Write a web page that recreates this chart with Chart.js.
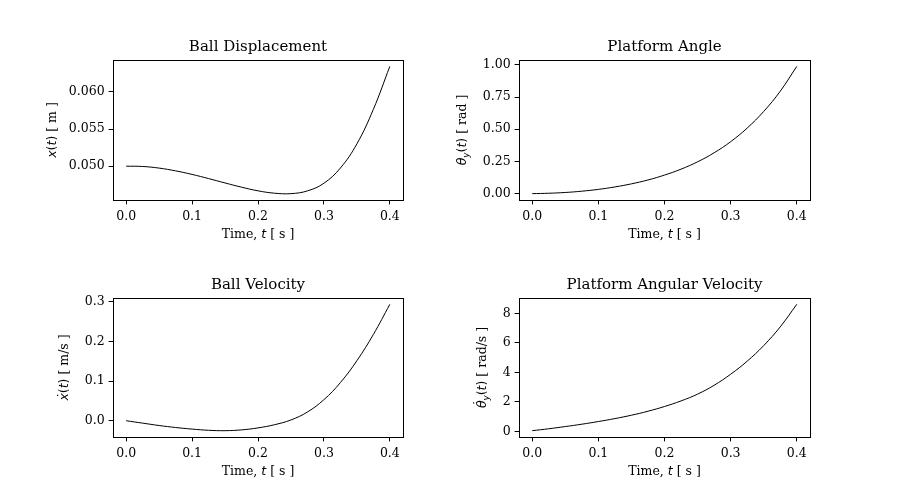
<!DOCTYPE html>
<html>
<head>
<meta charset="utf-8">
<script src="https://cdn.jsdelivr.net/npm/chart.js@4.4.1/dist/chart.umd.min.js"></script>
<style>
  html, body { margin: 0; padding: 0; background: #fff; }
  #wrap { position: relative; width: 900px; height: 500px; }
  #wrap canvas { position: absolute; left: 0; top: 0; }
</style>
</head>
<body>
<div id="wrap">
  <canvas id="c1" width="900" height="500"></canvas>
  <canvas id="c2" width="900" height="500"></canvas>
  <canvas id="c3" width="900" height="500"></canvas>
  <canvas id="c4" width="900" height="500"></canvas>
</div>
<script>
// time samples, seconds
const time = [0, 0.025, 0.05, 0.075, 0.1, 0.125, 0.15, 0.175, 0.2, 0.225, 0.25, 0.275, 0.3, 0.325, 0.35, 0.375, 0.4];

// values
const ballDisplacement = [0.0500, 0.04996, 0.04974, 0.04937, 0.04889, 0.04833, 0.04774, 0.04717, 0.04668, 0.04636, 0.04630, 0.04667, 0.04770, 0.04975, 0.05300, 0.05765, 0.06345];
const platformAngle = [0, 0.003, 0.009, 0.019, 0.033, 0.052, 0.076, 0.106, 0.144, 0.19, 0.247, 0.317, 0.403, 0.509, 0.638, 0.795, 0.988];
const ballVelocity = [0, -0.006, -0.012, -0.017, -0.021, -0.024, -0.025, -0.023, -0.018, -0.01, 0.002, 0.022, 0.053, 0.096, 0.151, 0.217, 0.293];
const platformRate = [0.04, 0.17, 0.32, 0.48, 0.66, 0.86, 1.09, 1.36, 1.68, 2.06, 2.52, 3.12, 3.87, 4.755, 5.815, 7.085, 8.615];

// tick labels
const timeTicks = [0.0, 0.1, 0.2, 0.3, 0.4];
const dispTicks = [0.050, 0.055, 0.060];
const angleTicks = [0.00, 0.25, 0.50, 0.75, 1.00];
const velTicks = [0.0, 0.1, 0.2, 0.3];
const rateTicks = [0, 2, 4, 6, 8];

const SERIF = '"DejaVu Serif", "Liberation Serif", serif';
const SANS = '"DejaVu Sans", sans-serif';
const TICK_PX = 12.5;

// draw a label made of pieces with different fonts, centred on 0,0
function drawPieces(ctx, pieces, size) {
    const fonts = pieces.map(p => {
        const s = p.sub ? size * 0.7 : size;
        if (p.m === 'i') return 'italic ' + s + 'px ' + SANS;
        if (p.m === 'm') return s + 'px ' + SANS;
        return s + 'px ' + SERIF;
    });
    let total = 0;
    const widths = pieces.map((p, i) => {
        ctx.font = fonts[i];
        const w = ctx.measureText(p.t).width;
        total += w;
        return w;
    });
    let x = -total / 2;
    ctx.textBaseline = 'middle';
    pieces.forEach((p, i) => {
        ctx.font = fonts[i];
        ctx.textAlign = 'left';
        ctx.fillText(p.t, x, p.sub ? size * 0.28 : 0);
        if (p.dot !== undefined) {
            // time-derivative dot over the symbol
            ctx.font = size + 'px ' + SANS;
            ctx.textAlign = 'center';
            ctx.fillText('\u02d9', x + widths[i] / 2 + 1.5, -size * p.dot);
        }
        x += widths[i];
    });
}

const timeLabel = [{ t: 'Time, ', m: 'r' }, { t: 't', m: 'i' }, { t: ' [ s ]', m: 'r' }];

// frame, title and axis labels
const decorPlugin = {
    id: 'decor',
    afterDraw(chart) {
        const o = chart.options.plugins.decor;
        const a = chart.chartArea;
        const ctx = chart.ctx;
        ctx.save();
        ctx.strokeStyle = '#000';
        ctx.lineWidth = 1;
        ctx.strokeRect(Math.round(a.left) + 0.5, Math.round(a.top) + 0.5,
            Math.round(a.right - a.left), Math.round(a.bottom - a.top));
        ctx.fillStyle = '#000';
        ctx.font = '15px ' + SERIF;
        ctx.textAlign = 'center';
        ctx.textBaseline = 'middle';
        ctx.fillText(o.title, (a.left + a.right) / 2, a.top - 13);

        ctx.save();
        ctx.translate((a.left + a.right) / 2, a.bottom + 35);
        drawPieces(ctx, timeLabel, TICK_PX);
        ctx.restore();

        ctx.save();
        ctx.translate(a.left - o.yLabelGap, (a.top + a.bottom) / 2);
        ctx.rotate(-Math.PI / 2);
        drawPieces(ctx, o.yLabel, TICK_PX);
        ctx.restore();
        ctx.restore();
    }
};

function makeChart(id, values, yTicks, decimals, box, title, yLabel, yLabelGap) {
    const lo = Math.min(...values), hi = Math.max(...values);
    const pad = (hi - lo) * 0.05;
    const Y_W = 70, X_H = 30;
    const tickFont = { family: SERIF, size: TICK_PX };
    return new Chart(document.getElementById(id), {
        type: 'line',
        data: {
            datasets: [{
                data: time.map((t, i) => ({ x: t, y: values[i] })),
                borderColor: '#000',
                borderWidth: 1,
                pointRadius: 0,
                fill: false,
                tension: 0.4
            }]
        },
        options: {
            responsive: false,
            animation: false,
            devicePixelRatio: 1,
            layout: {
                padding: {
                    left: box[0] - Y_W,
                    top: box[1],
                    right: 900 - box[2],
                    bottom: 500 - box[3] - X_H
                }
            },
            plugins: {
                legend: { display: false },
                title: { display: false },
                tooltip: { enabled: false },
                decor: { title: title, yLabel: yLabel, yLabelGap: yLabelGap }
            },
            scales: {
                x: {
                    type: 'linear',
                    min: -0.02,
                    max: 0.42,
                    afterBuildTicks: s => { s.ticks = timeTicks.map(v => ({ value: v })); },
                    afterFit: s => { s.height = X_H; },
                    ticks: { font: tickFont, color: '#000', padding: 5, maxRotation: 0,
                        callback: v => v.toFixed(1) },
                    grid: { drawOnChartArea: false, drawTicks: true, tickLength: 4.4,
                        tickColor: '#000', tickWidth: 1 },
                    border: { display: false }
                },
                y: {
                    type: 'linear',
                    min: lo - pad,
                    max: hi + pad,
                    afterBuildTicks: s => { s.ticks = yTicks.map(v => ({ value: v })); },
                    afterFit: s => { s.width = Y_W; },
                    ticks: { font: tickFont, color: '#000', padding: 4,
                        callback: v => v.toFixed(decimals) },
                    grid: { drawOnChartArea: false, drawTicks: true, tickLength: 4.4,
                        tickColor: '#000', tickWidth: 1 },
                    border: { display: false }
                }
            }
        },
        plugins: [decorPlugin]
    });
}

makeChart('c1', ballDisplacement, dispTicks, 3, [113, 60, 403, 200], 'Ball Displacement',
    [{ t: 'x', m: 'i' }, { t: '(', m: 'm' }, { t: 't', m: 'i' }, { t: ')', m: 'm' }, { t: ' [ m ]', m: 'r' }], 60.5);
makeChart('c2', platformAngle, angleTicks, 2, [519, 60, 810, 200], 'Platform Angle',
    [{ t: '\u03b8', m: 'i' }, { t: 'y', m: 'i', sub: true }, { t: '(', m: 'm' }, { t: 't', m: 'i' }, { t: ')', m: 'm' }, { t: ' [ rad ]', m: 'r' }], 56);
makeChart('c3', ballVelocity, velTicks, 1, [113, 298, 403, 437], 'Ball Velocity',
    [{ t: 'x', m: 'i', dot: 0.2 }, { t: '(', m: 'm' }, { t: 't', m: 'i' }, { t: ')', m: 'm' }, { t: ' [ m/s ]', m: 'r' }], 48);
makeChart('c4', platformRate, rateTicks, 0, [519, 298, 810, 437], 'Platform Angular Velocity',
    [{ t: '\u03b8', m: 'i', dot: 0.38 }, { t: 'y', m: 'i', sub: true }, { t: '(', m: 'm' }, { t: 't', m: 'i' }, { t: ')', m: 'm' }, { t: ' [ rad/s ]', m: 'r' }], 36);
</script>
</body>
</html>
